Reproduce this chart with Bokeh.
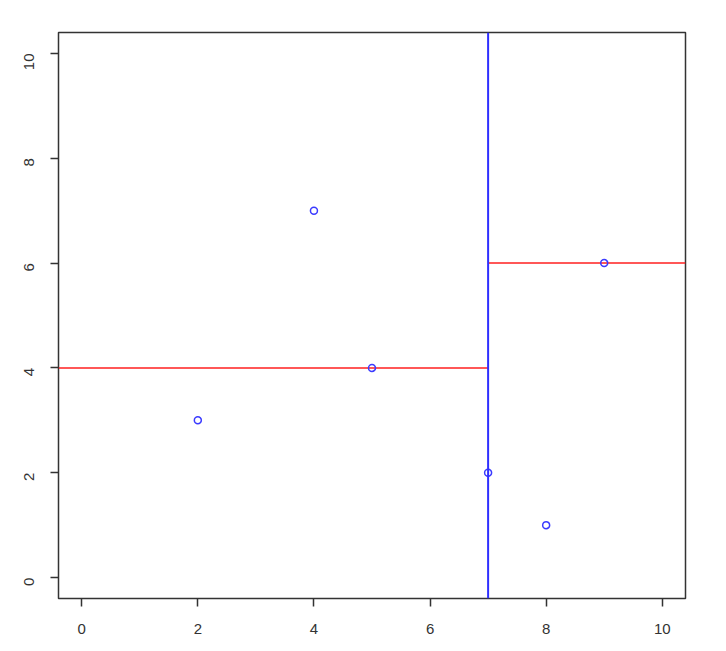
import math
from bokeh.plotting import figure
from bokeh.models import Range1d, FixedTicker, Span
from bokeh.embed import file_html
from bokeh.resources import INLINE

# Points
px = [2, 4, 5, 7, 8, 9]
py = [3, 7, 4, 2, 1, 6]

# kd-tree splits
vsplit_x = [7]
hseg_x0 = [-0.4, 7]
hseg_x1 = [7, 10.4]
hseg_y = [4, 6]

ticks = [0, 2, 4, 6, 8, 10]

p = figure(width=718, height=643, output_backend="svg", toolbar_location=None,
           x_range=Range1d(-0.4, 10.4), y_range=Range1d(-0.4, 10.4),
           min_border_left=58, min_border_right=33, min_border_top=32, min_border_bottom=45)
p.grid.visible = False
p.outline_line_color = "#333333"
p.outline_line_width = 1.5
p.background_fill_color = "white"
p.border_fill_color = "white"

for ax in (p.xaxis[0], p.yaxis[0]):
    ax.ticker = FixedTicker(ticks=ticks)
    ax.axis_line_color = None
    ax.major_tick_line_color = "#333333"
    ax.major_tick_line_width = 1.5
    ax.major_tick_in = 0
    ax.major_tick_out = 8
    ax.minor_tick_line_color = None
    ax.major_label_text_font = "Liberation Sans"
    ax.major_label_text_font_size = "15px"
    ax.major_label_text_color = "#333333"

p.xaxis.major_label_standoff = 17
p.yaxis.major_label_orientation = math.pi / 2
p.yaxis.major_label_standoff = 21

for x in vsplit_x:
    p.add_layout(Span(location=x, dimension="height", line_color="#2f2fff", line_width=2))

p.segment(x0=hseg_x0, x1=hseg_x1, y0=hseg_y, y1=hseg_y, line_color="#ff1f1f", line_width=1.5)

p.scatter(px, py, marker="circle", size=7, fill_color=None, line_color="#3b3bff", line_width=1.5)

open("out.html", "w").write(file_html(p, INLINE))
